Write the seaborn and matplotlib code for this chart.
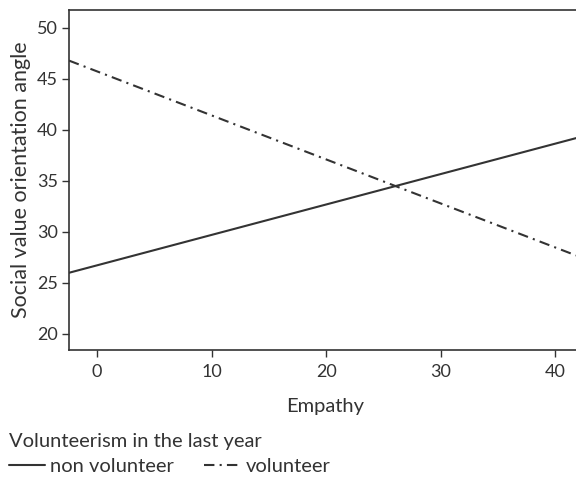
import matplotlib
matplotlib.use("Agg")
import matplotlib.pyplot as plt
import seaborn as sns
import pandas as pd

# data: fitted lines at the two ends of the visible Empathy range
empathy = [-2.45, 41.8]
non_volunteer = [26.0, 39.2]
volunteer = [46.8, 27.7]
groups = ["non volunteer", "volunteer"]
x_ticks = [0, 10, 20, 30, 40]
y_ticks = [20, 25, 30, 35, 40, 45, 50]

df = pd.DataFrame({
    "Empathy": empathy * 2,
    "SVO": non_volunteer + volunteer,
    "Volunteerism in the last year": [groups[0]] * 2 + [groups[1]] * 2,
})

sns.set_theme(style="ticks")
plt.rcParams["font.family"] = ["Lato", "DejaVu Sans"]
ink = "#333333"

fig = plt.figure(figsize=(5.76, 4.83), dpi=100)
ax = fig.add_axes([69 / 576, 133 / 483, 1 - 69 / 576 + 0.01, (350 - 10) / 483])

sns.lineplot(data=df, x="Empathy", y="SVO", hue="Volunteerism in the last year",
             style="Volunteerism in the last year",
             palette=[ink, ink], dashes=[(None, None), (5, 2.5, 1, 2.5)],
             linewidth=1.5, ax=ax, legend=True)

ax.set_xlim(-2.45, 42.3)
ax.set_ylim(18.43, 51.76)
ax.set_xticks(x_ticks)
ax.set_yticks(y_ticks)
ax.set_xlabel("Empathy", fontsize=14.5, color=ink, labelpad=13)
ax.set_ylabel("Social value orientation angle", fontsize=15.5, color=ink, labelpad=4)
ax.tick_params(axis="both", labelsize=13, colors=ink, length=5, width=1, direction="out", pad=3)
ax.tick_params(axis="x", pad=5)
for s in ["left", "bottom", "top"]:
    ax.spines[s].set_color(ink)
    ax.spines[s].set_linewidth(1.2)
ax.spines["right"].set_visible(False)

handles, labels = ax.get_legend_handles_labels()
ax.get_legend().remove()
leg = fig.legend(handles, labels, title="Volunteerism in the last year",
                 loc="upper left", bbox_to_anchor=(0.015, 0.104), ncol=2,
                 frameon=False, fontsize=14.5, title_fontsize=14.5,
                 handlelength=1.8, handletextpad=0.25, columnspacing=1.5,
                 borderaxespad=0, borderpad=0, labelspacing=0.4)
leg._legend_box.align = "left"
leg._legend_box.sep = 6
for t in leg.get_texts():
    t.set_color(ink)
leg.get_title().set_color(ink)

fig.savefig("out.png", dpi=100)
